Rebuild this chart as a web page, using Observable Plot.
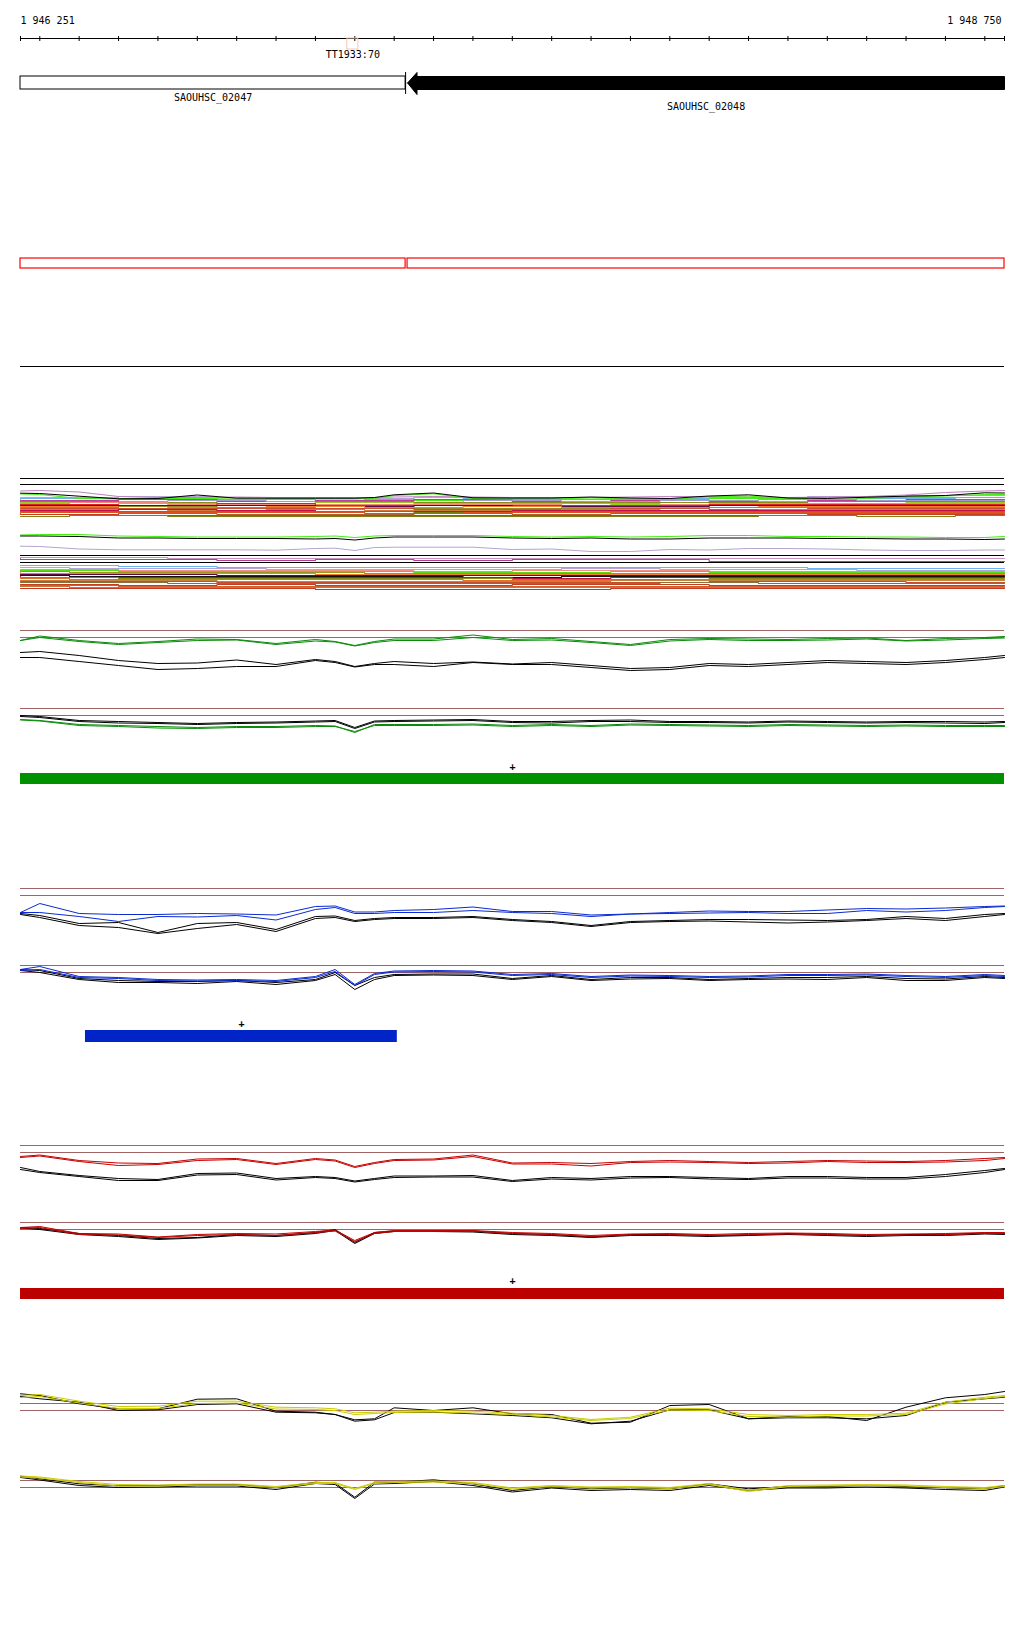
<!DOCTYPE html>
<html><head><meta charset="utf-8">
<script src="https://cdn.jsdelivr.net/npm/d3@7"></script>
<script src="https://cdn.jsdelivr.net/npm/@observablehq/plot@0.6"></script>
<style>
body{margin:0;background:#fff;}
#root{position:relative;width:1024px;height:1640px;background:#fff;overflow:hidden;}
#root svg{position:absolute;left:0;}
</style></head><body><div id="root"></div>
<script>
// ---------------- DATA ----------------
const START = 1946251, END = 1948750;
const rulerTicks = [1946251,1946300,1946400,1946500,1946600,1946700,1946800,1946900,1947000,1947100,1947200,1947300,1947400,1947500,1947600,1947700,1947800,1947900,1948000,1948100,1948200,1948300,1948400,1948500,1948600,1948700,1948750];
const markers = [{name:"TT1933:70", start:1947081, end:1947109}];
const genes = [
  {name:"SAOUHSC_02047", start:1946251, end:1947229, strand:"+"},
  {name:"SAOUHSC_02048", start:1947234, end:1948750, strand:"-"}
];
const greenSeg = [{start:1946251, end:1948750, strand:"+"}];
const blueSeg  = [{start:1946416, end:1947208, strand:"+"}];
const redSeg   = [{start:1946251, end:1948750, strand:"+"}];

// positions of signal samples
const linePos = [1946251,1946300,1946400,1946500,1946600,1946700,1946800,1946900,1947000,1947050,1947100,1947150,1947200,1947300,1947400,1947500,1947600,1947700,1947800,1947900,1948000,1948100,1948200,1948300,1948400,1948500,1948600,1948700,1948750];
const densePos = [1946251,1946500,1946750,1947000,1947250,1947500,1947750,1948000,1948250,1948500,1948750];

// green condition
const greenTopBlack1 = [-15,-14,-18,-23,-26,-25.5,-22.5,-27,-22,-24,-29,-26,-24,-26,-24.5,-26.5,-25,-28,-31,-30,-26,-27,-25,-23,-24,-25,-23,-20,-18];
const greenTopBlack2 = [-20,-20,-24,-28,-32,-31,-29,-29,-23,-25,-29.5,-27,-27,-29,-25,-27,-27,-30,-33,-32,-28,-29,-27,-25,-26,-27,-25,-22,-20];
const greenTopCol1 = [-3,1.5,-3,-6,-4,-1.5,-2,-6,-2,-4,-8,-4,-1.5,-1.5,2.5,-2,-1,-4,-7,-2,-1,-1.5,-2,-1,-0.5,-3,-1,0,1];
const greenTopCol2 = [-3,0,-4,-7,-5,-3,-2.5,-7,-3.5,-4.5,-8.5,-5,-3,-3,0,-3,-2.5,-5,-8,-3.5,-2,-3,-3,-2.5,-1.5,-3.5,-2.5,-1,-0.5];
const greenBotBlack1 = [0,-1,-5,-6,-7,-8,-7,-6.5,-5.5,-5,-12,-5.5,-5,-4.5,-4,-6,-6,-5,-4.5,-6,-6,-6.5,-5.5,-6,-6.5,-6,-6,-6.5,-6];
const greenBotBlack2 = [-1,-2,-6,-7.5,-8,-9,-8,-7.5,-6.5,-6,-13,-6.5,-6,-5.5,-5,-7,-7.5,-6,-6,-7,-7,-7.5,-6.5,-7,-7.5,-7,-7.5,-8,-7];
const greenBotCol1 = [-4,-5,-9,-10,-11,-12,-11,-11,-10,-10.5,-17,-9,-9,-9,-8.5,-10,-9,-10,-8.5,-9,-9.5,-10,-9,-9.5,-10,-9.5,-10,-10,-10];
const greenBotCol2 = [-4.5,-5.5,-10,-11,-12.5,-13,-12,-12,-11,-11,-16,-10,-10,-10,-9.5,-11,-10,-11,-9.5,-10,-10.5,-11,-10,-10.5,-11,-10.5,-11,-11,-11];
// blue condition
const blueTopBlack1 = [-18,-20,-28,-27,-37,-28,-27,-34,-21,-20.5,-25,-23,-22,-22,-21,-24,-26,-30,-26,-25,-24,-24,-24.5,-25,-24,-21,-23,-19,-18];
const blueTopBlack2 = [-19,-22,-30,-32,-38,-33,-29,-36,-23,-22,-26,-24,-23,-23,-22,-25,-27,-31,-27,-26,-25.5,-26.5,-27.5,-26.5,-25,-23,-25,-21,-19];
const blueTopCol1 = [-17,-8,-18,-19,-19,-18,-18.5,-19.5,-11,-10.5,-16.5,-16.5,-15,-14,-11.5,-16,-16,-19.5,-18.5,-17,-15.5,-16,-16,-14.5,-13,-13.5,-12.5,-11,-10.5];
const blueTopCol2 = [-17,-17,-21,-26,-21,-21.5,-20,-24.5,-14,-12,-18,-18,-17,-17,-15,-17,-18,-21,-18.5,-18,-17.5,-17,-18,-18,-15,-16.5,-15,-12,-11];
const blueBotBlack1 = [3,2,-6,-8,-9,-9,-8,-10,-7,0,-13,-5,-2,-1.5,-1.5,-6,-3,-7,-5,-5,-7,-6,-5,-5,-4,-6,-6.5,-4,-5];
const blueBotBlack2 = [2,0,-7,-10,-10,-11,-9,-12,-8,-2,-17,-7,-3,-2.5,-3,-7,-4,-8,-6.5,-6,-8,-7,-6.5,-7,-5,-8,-8,-5,-6];
const blueBotCol1 = [3,6,-4,-5,-7,-7.5,-7,-8,-4,3,-12,-1,1.5,2,1.5,-2,-1,-4,-2.5,-3,-4,-3.5,-2,-2,-1.5,-3,-4,-2,-3];
const blueBotCol2 = [2,3,-5,-6,-8,-8.5,-8,-9,-5,1,-13,-2,0.5,1,0.5,-3,-2,-5,-3.5,-4,-5,-4.5,-3,-3,-2.5,-4,-5,-3,-4];
// red condition
const redTopBlack1 = [-15,-19,-23,-26,-27,-21,-20.5,-26,-24,-25,-28.5,-26,-23.5,-23.5,-23,-28,-25,-26,-24,-24,-25,-26,-24,-24,-25,-25,-22,-18,-16];
const redTopBlack2 = [-17,-20,-24,-28,-28,-22.5,-22,-27.5,-25,-26,-29.5,-27,-25,-24.5,-24.5,-29,-26.5,-27.5,-25.5,-25,-26.5,-27,-25.5,-25.5,-26.5,-26.5,-24,-20,-17];
const redTopCol1 = [-4,-2.5,-8,-10.5,-11,-6.5,-6,-11,-6,-7.5,-14,-10,-7,-6.5,-2.5,-10.5,-10,-11,-9,-8,-9,-10,-9,-8,-8.5,-9,-8,-6,-5];
const redTopCol2 = [-5,-3.5,-9,-13,-12,-8,-7,-12,-7,-8.5,-15,-11,-8,-7.5,-4,-11.5,-11.5,-13.5,-10,-9.5,-10,-11,-10.5,-9,-10,-10,-9.5,-8,-6];
const redBotBlack1 = [2,1,-4,-6,-9,-8,-5,-6,-3,0,-13,-3,-1.5,-1,-1.5,-4,-5,-7.5,-5,-5,-6,-5.5,-4,-5,-6,-5,-5,-3.5,-4];
const redBotBlack2 = [1.5,0,-5,-7,-10,-8.5,-6,-7,-4,-1,-14,-4,-2,-2,-2.5,-5,-6,-8,-6,-6,-7,-6,-5,-6,-7,-6,-6,-4.5,-5];
const redBotCol1 = [2,3,-4,-4.5,-7.5,-5,-4,-4.5,-2,-0.5,-11,-3,-1,-1,-1,-3,-4,-6,-4.5,-4,-5,-4,-3.5,-4,-5,-4.5,-4,-3,-3];
const redBotCol2 = [1,2,-5,-5.5,-8,-6,-5,-6,-3,-1.5,-12,-4,-2,-2,-1.5,-4,-5,-7,-5.5,-5,-6,-5,-4.5,-5,-6,-5.5,-5,-4,-4];
// yellow condition
const yelTopBlack1 = [16.7,15,6.7,1.7,1.7,11.3,11.7,-0.7,-1.7,-4,-9.3,-8.3,2.7,0,2.7,-3.3,-4,-12.7,-11.7,5,6,-8.3,-6,-6,-10,3.3,12.7,16,19];
const yelTopBlack2 = [14,11.7,8.3,0,0.7,6,6.7,-1.7,-2.3,-4,-10.7,-9.3,-2,-1.7,-3.3,-5,-7.3,-13.3,-10.7,0.7,0.7,-8.3,-7.3,-7.3,-8.3,-5,8.3,11.7,13.3];
const yelTopCol1 = [15,16,9.3,4,4.3,9.3,9.3,3.3,2.7,1.7,-2.3,-1.7,-0.7,0,-0.7,-2.7,-5,-9,-6.7,2.3,1.7,-4,-5,-4,-4,-2.7,8.3,13.3,15];
const yelTopCol2 = [13,14,7.5,2,2,7,7.5,1.5,1,0,-4,-3,-2,-1.5,-2.5,-4,-6.5,-10,-8,0.5,0,-6,-6.5,-5.5,-5.5,-4,6.5,12,14];
const yelBotBlack1 = [11.3,8.7,3.7,1.7,2,3,3,-0.3,5.3,4.3,-9.7,5.3,5.3,7.7,3.7,-3,1,-1.3,-0.3,-1.3,3.7,-1.3,1,1,2,1,-0.3,-1.3,2];
const yelBotBlack2 = [10,7.5,2,0,0.5,1.5,1.5,-2,4,3,-11,3.5,4,6,2,-4.5,-0.5,-3,-2,-3,2,-3,-0.5,-0.5,0.5,-0.5,-2,-3,0.5];
const yelBotCol1 = [11.5,10.5,6,3,2.5,3.5,3.5,1,5,5,-1,5,6,6.5,5,-0.5,2,0.5,1,0,4,-3,2,2.5,3,2.5,1,0,2];
const yelBotCol2 = [10.5,9.5,5,1.5,1.5,2.5,2.5,0,4,4,-2,4,5,5.5,4,-1.5,1,-0.5,0,-1,3,-4,1,1.5,2,1.5,0,-1,1];

// multi-sample panel
const upperTopBlack = [27.3,27,24.3,21.7,22,25.5,22.3,22.3,22.3,22.3,22.3,23,25.7,27.5,22.7,22.5,22.5,23.5,22.5,22,24.5,25.7,22.5,22,23.3,24.3,25,27.7,27.5];
const upperTopGreen = [26.5,26,22,21.5,22,22,21.5,21.5,21.5,21.5,21.5,22,25,26.7,22,21.5,21.5,22.5,21.5,21,23.5,24.5,21.5,21,22,23.5,24.5,26,26];
const upperTopPink  = [29.5,30,28.5,24,23,23,23.5,23,23,23,23,23,23.5,24,23.5,23,23,23,23.5,24,24,23.5,23,23.5,24,25.5,28,29.5,30];
const upperBand = [
  [23,24,23,22,23,23,22,23,24,25,25],
  [22,22,21,22,21,22,21,22,21,22,23],
  [21,20,22,21,20,20,21,21,22,23,23],
  [20,21,19,20,21,19,20,19,20,21,21],
  [19,19,20,19,18,20,19,20,19,20,20],
  [18,19,18,17,19,18,18,18,18,19,19],
  [18,17,17,18,17,17,16,17,17,18,18],
  [17,18,16,16,16,16,17,16,16,17,17],
  [16,16,15,17,15,15,15,15,16,16,16],
  [15,15,15,14,15,14,14,15,15,15,15],
  [14,14,13,14,13,14,13,13,14,14,14],
  [13,13,14,13,12,12,12,12,13,13,13],
  [12,12,12,12,11,11,12,11,12,12,12],
  [11,11,10,11,10,10,11,10,11,11,11],
  [10,10,11,10,9,9,10,10,10,10,10],
  [9,9,9,9,8,9,9,9,9,9,9],
  [8,8,8,8,7,8,8,8,8,8,8],
  [7,6,7,6,6,7,6,7,7,7,7],
  [6,5,5,5,5,5,5,5,6,6,6],
  [4,5,4,4,4,4,4,4,5,4,5]
];
const midGreen = [21.5,22,22,20.5,20,19.5,19.5,19.5,20,20.5,19,20.5,21,21,21,20,19.5,20,19.5,20,21,21,20,20,19.5,19.5,19,19,20];
const midBlack = [20.5,20.5,20,18.5,18.5,18,18,18,17.5,18,16.5,18.5,19.5,19.5,19.5,18.5,18,18.5,17.5,17.5,18.5,18.5,18.5,18,18,17.5,17.5,17,17.5];
const midLilac = [10.3,10,7.5,6.7,6.7,6.7,6.7,6.3,8,8.3,6,9,9.3,9.3,9.3,7,7.5,5,5,7,6.5,8,8,7.5,6.5,6,6,6.5,6.5];
const lowerBand = [
  [37,37,36,36,36,36,36,36,36,36,36],
  [36,35,35,34,35,34,35,35,33,33,33],
  [29,28,27,27,27,27,27,27,26,26,26],
  [27,26,26,25,25,25,26,25,25,24,24],
  [25,25,24,24,24,23,24,24,23,23,23],
  [24,23,23,23,22,22,23,22,22,22,22],
  [23,22,22,22,21,21,21,21,21,21,21],
  [22,21,21,21,20,20,20,20,20,20,20],
  [20,20,19,19,19,19,19,19,19,19,19],
  [19,18,18,18,18,17,18,18,18,18,18],
  [18,17,17,17,17,17,16,17,17,17,17],
  [17,16,16,16,16,15,15,16,16,16,16],
  [16,15,15,15,15,14,14,15,15,15,15],
  [14,14,14,13,13,13,13,14,14,14,14],
  [13,13,12,12,12,12,12,13,13,12,12],
  [12,12,11,11,11,11,11,12,11,11,11],
  [10,10,9,10,9,9,10,10,9,9,9],
  [9,8,8,8,8,8,8,8,8,8,8],
  [8,7,7,7,7,7,7,7,7,7,7],
  [6,6,6,6,5,5,5,6,6,6,6]
];

// ---------------- STYLES ----------------
const FONT = "DejaVu Sans Mono";
const brown = "#a06464";
const upperBandColors = ["#b4a4d8","#6cb4f0","#44ee11","#c03c9c","#a898d0","#8c8c14","#99cc22","#f08a7a","#e0202c","#5a0a48","#f08030","#9a8a22","#c85030","#d07a40","#c0104c","#7a7a10","#e05020","#b06030","#c04020","#808010"];
const lowerBandColors = ["#c890c0","#b04090","#6cb4f0","#b4a4d8","#f09080","#55dd11","#999920","#f08030","#600840","#111111","#c01048","#8a8a10","#e07028","#c88040","#c05030","#8a7040","#c04020","#d06030","#c07840","#c83820"];
const bandCurves = ["step-after", "step", "step-before"];

const root = document.getElementById("root");
const fmt = d => d3.format(",")(d).replace(/,/g, " ");

function track(top, height, yopts, marks) {
  const svg = Plot.plot({
    width: 1024, height, marginLeft: 20, marginRight: 20, marginTop: 0, marginBottom: 0,
    x: {domain: [START, END], axis: null},
    y: Object.assign({axis: null}, yopts),
    style: {background: "transparent", overflow: "visible"},
    marks
  });
  svg.style.position = "absolute";
  svg.style.top = top + "px";
  svg.style.left = "0px";
  root.appendChild(svg);
}
const layoutY = h => ({domain: [0, h], range: [0, h]});
const series = (pos, vals) => pos.map((p, i) => ({p, v: vals[i]}));

// ruler
track(0, 60, layoutY(60), [
  Plot.ruleY([38], {stroke: "black"}),
  Plot.ruleX(rulerTicks, {y1: 36, y2: 41, stroke: "black"}),
  Plot.text([START], {x: d => d, y: 20, text: fmt, textAnchor: "start", fontFamily: FONT, fontSize: 10}),
  Plot.text([END], {x: d => d, y: 20, text: fmt, textAnchor: "end", dx: -3, fontFamily: FONT, fontSize: 10}),
  Plot.rect(markers, {x1: "start", x2: "end", y1: 38, y2: 49, stroke: "#f8c4b0", fill: "none"}),
  Plot.text(markers, {x: d => (d.start + d.end) / 2, y: 54.5, text: "name", fontFamily: FONT, fontSize: 10})
]);

// genes
const g2 = genes[1];
const headLen = 24;
const arrowPts = [
  {x: g2.start, y: 22.5}, {x: g2.start + headLen, y: 12}, {x: g2.start + headLen, y: 16},
  {x: g2.end, y: 16}, {x: g2.end, y: 29}, {x: g2.start + headLen, y: 29},
  {x: g2.start + headLen, y: 34}, {x: g2.start, y: 22.5}
];
const geneLabelY = [37.7, 46.7];
track(60, 60, layoutY(60), [
  Plot.rect([genes[0]], {x1: "start", x2: "end", y1: 16, y2: 29, fill: "white", stroke: "black"}),
  Plot.ruleX([genes[0].end], {y1: 12, y2: 34, stroke: "black"}),
  Plot.line(arrowPts, {x: "x", y: "y", fill: "black", stroke: "black", strokeWidth: 1}),
  Plot.text(genes, {x: d => (d.start + d.end) / 2, y: (d, i) => geneLabelY[i], text: "name", fontFamily: FONT, fontSize: 10})
]);

// red CDS outlines
track(240, 40, layoutY(40), [
  Plot.rect(genes, {x1: "start", x2: "end", y1: 18, y2: 28, stroke: "#ff0000", fill: "none", strokeWidth: 1.2})
]);
// separator
track(350, 30, layoutY(30), [Plot.ruleY([16], {stroke: "black"})]);

// upper multi-sample band
track(474, 46, {domain: [0, 46]}, [
  Plot.ruleY([42, 36], {stroke: "black"}),
  ...upperBand.map((vals, k) => Plot.line(series(densePos, vals), {x: "p", y: "v", stroke: upperBandColors[k], strokeWidth: 1.15, curve: bandCurves[k % 3]})),
  Plot.line(series(linePos, upperTopPink), {x: "p", y: "v", stroke: "#c080c0", strokeWidth: 1}),
  Plot.line(series(linePos, upperTopGreen), {x: "p", y: "v", stroke: "#44ee11", strokeWidth: 1}),
  Plot.line(series(linePos, upperTopBlack), {x: "p", y: "v", stroke: "black", strokeWidth: 1})
]);
// middle track
track(528, 28, {domain: [0, 28]}, [
  Plot.line(series(linePos, midLilac), {x: "p", y: "v", stroke: "#b4a4d0", strokeWidth: 1}),
  Plot.line(series(linePos, midGreen), {x: "p", y: "v", stroke: "#44ee11", strokeWidth: 1}),
  Plot.line(series(linePos, midBlack), {x: "p", y: "v", stroke: "black", strokeWidth: 1})
]);
// lower multi-sample band
track(550, 44, {domain: [0, 44]}, [
  Plot.ruleY([39, 32], {stroke: "black"}),
  ...lowerBand.map((vals, k) => Plot.line(series(densePos, vals), {x: "p", y: "v", stroke: lowerBandColors[k], strokeWidth: 1.15, curve: bandCurves[(k + 1) % 3]}))
]);

// signal tracks
function signal(top, height, domain, color, blacks, cols) {
  track(top, height, {domain}, [
    Plot.ruleY([0, 7], {stroke: brown, strokeWidth: 1}),
    ...blacks.map(v => Plot.line(series(linePos, v), {x: "p", y: "v", stroke: "black", strokeWidth: 1})),
    ...cols.map(v => Plot.line(series(linePos, v), {x: "p", y: "v", stroke: color, strokeWidth: 1}))
  ]);
}
function bar(top, segs, color, plusY, y1, y2) {
  track(top, 30, layoutY(30), [
    Plot.rect(segs, {x1: "start", x2: "end", y1, y2, fill: color}),
    Plot.text(segs, {x: d => (d.start + d.end) / 2, y: plusY, text: "strand", fontFamily: FONT, fontSize: 10, fontWeight: "bold"})
  ]);
}
const GREEN = "#0a8c0a", BLUE = "#0a2ad2", RED = "#c80000", YELLOW = "#cccc00";
signal(620, 60, [-43, 17], GREEN, [greenTopBlack1, greenTopBlack2], [greenTopCol1, greenTopCol2]);
signal(700, 40, [-25, 15], GREEN, [greenBotBlack1, greenBotBlack2], [greenBotCol1, greenBotCol2]);
bar(760, greenSeg, "#009000", 6, 13, 24);
signal(880, 60, [-45, 15], BLUE, [blueTopBlack1, blueTopBlack2], [blueTopCol1, blueTopCol2]);
signal(955, 45, [-28, 17], BLUE, [blueBotBlack1, blueBotBlack2], [blueBotCol1, blueBotCol2]);
bar(1015, blueSeg, "#0024c8", 8, 15, 27);
signal(1137, 55, [-40, 15], RED, [redTopBlack1, redTopBlack2], [redTopCol1, redTopCol2]);
signal(1212, 40, [-23, 17], RED, [redBotBlack1, redBotBlack2], [redBotCol1, redBotCol2]);
bar(1272, redSeg, "#bb0000", 8, 16, 27);
signal(1385, 45, [-20, 25], YELLOW, [yelTopBlack1, yelTopBlack2], [yelTopCol1, yelTopCol2]);
signal(1465, 40, [-18, 22], YELLOW, [yelBotBlack1, yelBotBlack2], [yelBotCol1, yelBotCol2]);
</script></body></html>
